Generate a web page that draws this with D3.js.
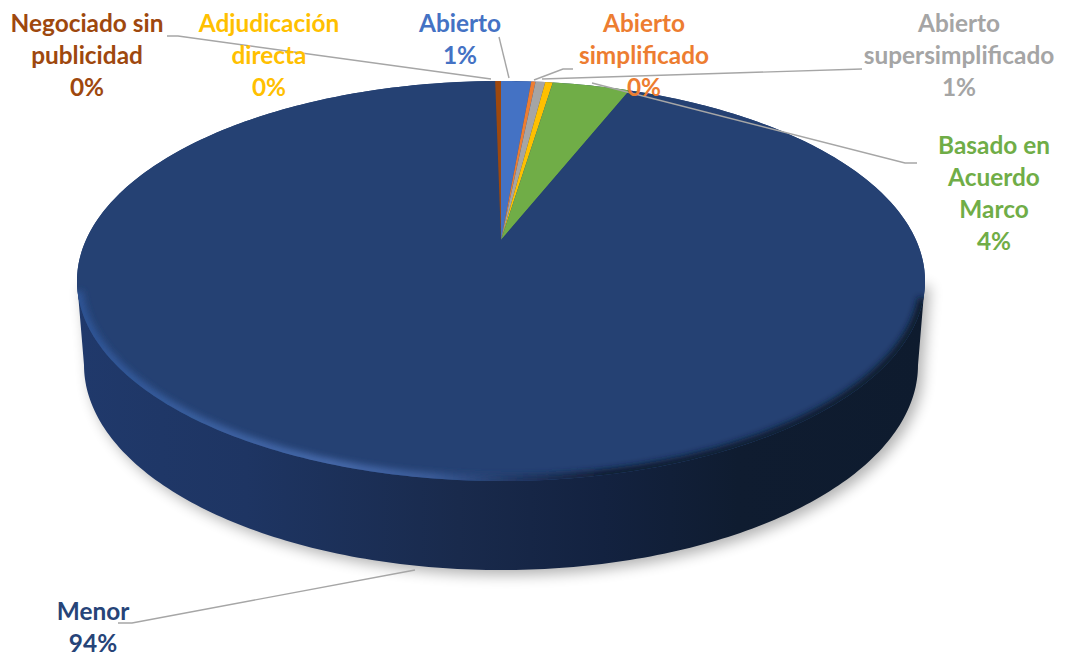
<!DOCTYPE html>
<html><head><meta charset="utf-8">
<script src="https://cdn.jsdelivr.net/npm/d3@7"></script>
<style>html,body{margin:0;background:#fff}svg{display:block}text{font-family:Lato,"Open Sans",sans-serif;font-weight:700;font-size:24.4px}</style>
</head><body><svg id="c" width="1069" height="655"></svg>
<script>
const categories=["Abierto","Abierto simplificado","Abierto supersimplificado","Adjudicación directa","Basado en Acuerdo Marco","Menor","Negociado sin publicidad"];
const values=[1.4,0.2,0.45,0.35,3.6,93.73,0.27];
const pctLabels=["1%","0%","1%","0%","4%","94%","0%"];
const colors=["#4472C4","#ED7D31","#A5A5A5","#FFC000","#70AD47","#264478","#9E480E"];
const topColor="#254173";
const labelLines=[["Abierto"],["Abierto","simplificado"],["Abierto","supersimplificado"],["Adjudicación","directa"],["Basado en","Acuerdo","Marco"],["Menor"],["Negociado sin","publicidad"]];
const labelCx=[460,644,959,269,994,93,87];
const labelTop=[24,24,24,24,146,612,24];
const leaders=[
 [[499,37],[509,78]],
 [[534,80],[563,69],[573,69]],
 [[542,79],[862,69]],
 [],
 [[592,83],[905,163],[917,163]],
 [[415,570],[132,623],[118,623]],
 [[167,36],[178,36],[491,79]]
];
const svg=d3.select("#c");
// top face: ellipse with the apex pulled up by perspective
const sx=d3.scaleLinear().domain([-1,1]).range([77,925]);
const sy=d3.scaleLinear().domain([-1,1]).range([481,81]);
const d=0.205,k=Math.sqrt(1-d*d);
const proj=(r,t)=>{const u=r*Math.sin(t),v=r*Math.cos(t),w=1+d*v;return [sx(u*k/w),sy((v+d)/w)];};
const line=d3.line();
const pie=d3.pie().sort(null).value(v=>v);
const arcs=pie(values);
const defs=svg.append("defs");
const gr=defs.append("linearGradient").attr("id","wall").attr("gradientUnits","userSpaceOnUse").attr("x1",77).attr("x2",925).attr("y1",0).attr("y2",0);
[[0,"#20396b"],[0.2,"#1e3563"],[0.45,"#192a4c"],[0.62,"#132240"],[0.78,"#0f1c30"],[1,"#0e1b2e"]].forEach(s=>gr.append("stop").attr("offset",s[0]).attr("stop-color",s[1]));
const gb=defs.append("linearGradient").attr("id","bevel").attr("gradientUnits","userSpaceOnUse").attr("x1",77).attr("x2",925).attr("y1",0).attr("y2",0);
[[0,"#2d5394"],[0.15,"#3a5f9f"],[0.3,"#4669aa"],[0.42,"#3a5b98"],[0.52,"#1f3560"],[0.62,"#101d33"],[1,"#0e1b2e"]].forEach(s=>gb.append("stop").attr("offset",s[0]).attr("stop-color",s[1]));
defs.append("filter").attr("id","sh").attr("x","-5%").attr("y","-5%").attr("width","110%").attr("height","110%").append("feGaussianBlur").attr("stdDeviation",7);
defs.append("filter").attr("id","bl").attr("x","-5%").attr("y","-5%").attr("width","110%").attr("height","110%").append("feGaussianBlur").attr("stdDeviation",3);
const topEllipse=d3.range(0,361,1).map(a=>[sx(Math.sin(a*Math.PI/180)),sy(Math.cos(a*Math.PI/180))]);
defs.append("clipPath").attr("id","topClip").append("path").attr("d",line(topEllipse)+"Z");
// wall: lower ellipse half joined to widest points of the top face
const lx=d3.scaleLinear().domain([-1,1]).range([84,918]);
const ly=d3.scaleLinear().domain([-1,1]).range([570,160]);
const lowHalf=d3.range(90,271,1).map(a=>[lx(Math.sin(a*Math.PI/180)),ly(Math.cos(a*Math.PI/180))]);
const wall=line([[sx(1),sy(0)],...lowHalf,[sx(-1),sy(0)]])+"Z";
svg.append("path").attr("d",wall).attr("fill","#000").attr("opacity",0.3).attr("filter","url(#sh)").attr("transform","translate(5,5)");
svg.append("path").attr("d",wall).attr("fill","url(#wall)");
svg.append("path").attr("d",line(topEllipse)+"Z").attr("fill",topColor);
// slices
svg.append("g").selectAll("path").data(arcs).join("path")
 .attr("fill",(_,i)=>i===5?topColor:colors[i])
 .attr("d",a=>{const n=Math.max(2,Math.ceil((a.endAngle-a.startAngle)*60));
   const pts=d3.range(n+1).map(i=>proj(1,a.startAngle+(a.endAngle-a.startAngle)*i/n));
   return line([proj(0,0),...pts])+"Z";});
// bevel along lower rim
const rim=d3.range(95,268,1).map(a=>[sx(Math.sin(a*Math.PI/180)),sy(Math.cos(a*Math.PI/180))]);
svg.append("g").attr("clip-path","url(#topClip)").append("path").attr("d",line(rim)).attr("fill","none")
 .attr("stroke","url(#bevel)").attr("stroke-width",11).attr("filter","url(#bl)");
// leaders
svg.append("g").selectAll("path").data(leaders.filter(l=>l.length)).join("path")
 .attr("d",l=>line(l)).attr("fill","none").attr("stroke","#a6a6a6").attr("stroke-width",1.4);
// labels
const lab=svg.append("g").selectAll("text").data(categories).join("text")
 .attr("text-anchor","middle").attr("fill",(_,i)=>colors[i]);
lab.each(function(_,i){
 const t=d3.select(this);
 [...labelLines[i],pctLabels[i]].forEach((s,j)=>t.append("tspan").attr("x",labelCx[i]).attr("y",labelTop[i]+32*j+8).text(s));
});
</script></body></html>
